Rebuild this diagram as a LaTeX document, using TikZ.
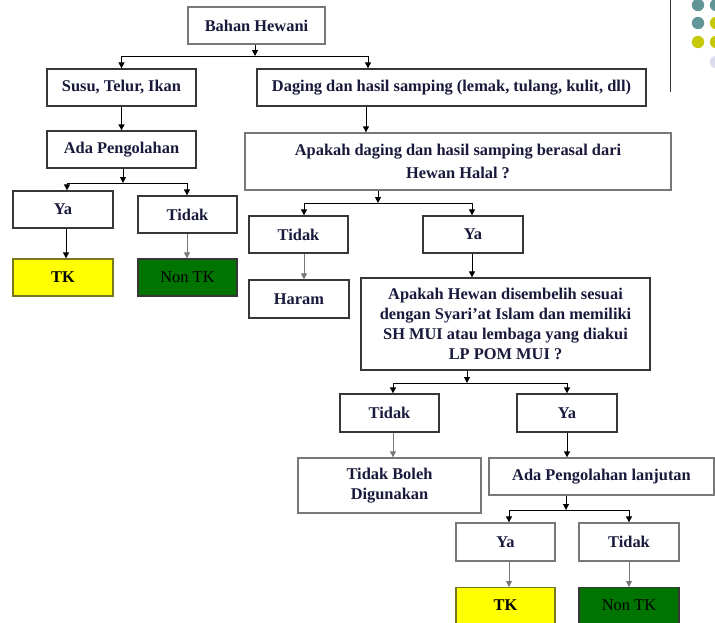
\documentclass[tikz,border=0pt]{standalone}
\usepackage{fontspec}
\setmainfont{Liberation Serif}
\usetikzlibrary{arrows.meta}

\definecolor{ink}{RGB}{25,25,60}
\definecolor{edgeD}{RGB}{55,55,55}
\definecolor{edgeL}{RGB}{120,120,120}
\definecolor{tkyellow}{RGB}{255,255,0}
\definecolor{tkedge}{RGB}{120,120,30}
\definecolor{ntgreen}{RGB}{0,115,0}
\definecolor{dotteal}{RGB}{98,150,150}
\definecolor{dotlime}{RGB}{200,200,10}
\definecolor{dotlav}{RGB}{220,220,238}

\begin{document}
\begin{tikzpicture}[x=1pt,y=-1pt,
  txt/.style={font=\fontsize{16.4}{20}\selectfont\bfseries, text=ink, align=center},
  box/.style={txt, draw=edgeD, line width=1.3pt, fill=white,
              minimum height=37pt, inner sep=2pt},
  boxl/.style={box, draw=edgeL},
  tkbox/.style={box, fill=tkyellow, draw=tkedge, text=black},
  ntbox/.style={box, fill=ntgreen, draw=edgeD, text=black,
                font=\fontsize{16.4}{20}\selectfont},
  arr/.style={draw=black, line width=1pt,
              -{Triangle[length=6pt,width=6pt]}},
  arrg/.style={arr, draw=edgeL}
]
\useasboundingbox (0,0) rectangle (715,622);
\clip (0,0) rectangle (715,622);

% corner ornament: rule and dots
\draw[edgeD, line width=1pt] (670,0) -- (670,92);
\fill[dotteal] (698,5) circle (6.2) (716,5) circle (6.2) (698,23) circle (6.2);
\fill[dotlime] (716,23) circle (6.2) (698,42) circle (6.2) (716,42) circle (6.2);
\fill[dotlav] (716,62) circle (6.2);

% boxes
\node[boxl, minimum width=137pt] (bahan) at (256.5,25.5) {Bahan Hewani};
\node[box, minimum width=149pt] (susu) at (121.5,87.5) {Susu, Telur, Ikan};
\node[box, minimum width=389pt] (daging) at (451.5,87.5)
  {Daging dan hasil samping (lemak, tulang, kulit, dll)};
\node[box, minimum width=149pt] (ada1) at (121.5,149.5) {Ada Pengolahan};
\node[boxl, minimum width=426pt, minimum height=57pt,
      font=\fontsize{16.4}{23}\selectfont\bfseries] (apakah1) at (458,161.5)
  {Apakah daging dan hasil samping berasal dari\\Hewan Halal ?};

\node[box, minimum width=100pt] (ya1) at (63,209.5) {Ya};
\node[box, minimum width=99pt] (tidak1) at (187.5,214.5) {Tidak};
\node[tkbox, minimum width=100pt] (tk1) at (63,277.5) {TK};
\node[ntbox, minimum width=99pt] (nontk1) at (187.5,277.5) {Non TK};

\node[box, minimum width=99pt] (tidak2) at (298.5,234.5) {Tidak};
\node[box, minimum width=100pt] (ya2) at (473,234.5) {Ya};
\node[box, minimum width=100pt, minimum height=38pt] (haram) at (299,299) {Haram};
\node[box, minimum width=289pt, minimum height=92pt] (apakah2) at (505.5,324)
  {Apakah Hewan disembelih sesuai\\dengan Syari'at Islam dan memiliki\\SH MUI atau lembaga yang diakui\\LP POM MUI ?};

\node[box, minimum width=99pt, minimum height=38pt] (tidak3) at (389.5,413) {Tidak};
\node[box, minimum width=100pt, minimum height=38pt] (ya3) at (567,413) {Ya};
\node[boxl, minimum width=183pt, minimum height=55pt] (boleh) at (389.5,485.5)
  {Tidak Boleh\\Digunakan};
\node[boxl, minimum width=225pt] (ada2) at (601.5,476.5) {Ada Pengolahan lanjutan};

\node[boxl, minimum width=99pt, minimum height=38pt] (ya4) at (505.5,542) {Ya};
\node[boxl, minimum width=100pt, minimum height=38pt] (tidak4) at (629,542) {Tidak};
\node[tkbox, minimum width=99pt, anchor=north] (tk2) at (505.5,587)
  {\raisebox{3pt}{TK}};
\node[ntbox, minimum width=100pt, anchor=north] (nontk2) at (629,587)
  {\raisebox{3pt}{Non TK}};

% branch points and connector columns
\coordinate (j1) at (255,56);
\coordinate (j2) at (123,183);
\coordinate (j3) at (378,203);
\coordinate (j4) at (467,383);
\coordinate (j5) at (566,510);
\coordinate (cDin) at (368,0);
\coordinate (cDout) at (366,0);
\coordinate (cYa1) at (67,0);
\coordinate (cYa1d) at (66,0);
\coordinate (cTd1) at (187,0);
\coordinate (cTd2) at (304,0);
\coordinate (cYa2) at (472,0);
\coordinate (cTd3) at (393,0);
\coordinate (cYa3) at (567,0);
\coordinate (cYa4) at (509,0);
\coordinate (cTd4) at (629,0);

% connectors
\draw[arr] (bahan.south -| j1) -- (j1);
\draw[arr] (j1) -| (susu.north);
\draw[arr] (j1) -| (daging.north -| cDin);

\draw[arr] (susu.south) -- (ada1.north);
\draw[arr] (ada1.south -| j2) -- (j2);
\draw[arr] (j2) -| (ya1.north -| cYa1);
\draw[arr] (j2) -| (tidak1.north -| cTd1);
\draw[arr] (ya1.south -| cYa1d) -- (tk1.north -| cYa1d);
\draw[arrg] (tidak1.south -| cTd1) -- (nontk1.north -| cTd1);

\draw[arr] (daging.south -| cDout) -- (apakah1.north -| cDout);
\draw[arr] (apakah1.south -| j3) -- (j3);
\draw[arr] (j3) -| (tidak2.north -| cTd2);
\draw[arr] (j3) -| (ya2.north -| cYa2);
\draw[arrg] (tidak2.south -| cTd2) -- (haram.north -| cTd2);
\draw[arr] (ya2.south -| cYa2) -- (apakah2.north -| cYa2);

\draw[arr] (apakah2.south -| j4) -- (j4);
\draw[arr] (j4) -| (tidak3.north -| cTd3);
\draw[arr] (j4) -| (ya3.north -| cYa3);
\draw[arrg] (tidak3.south -| cTd3) -- (boleh.north -| cTd3);
\draw[arr] (ya3.south -| cYa3) -- (ada2.north -| cYa3);

\draw[arr] (ada2.south -| j5) -- (j5);
\draw[arr] (j5) -| (ya4.north -| cYa4);
\draw[arr] (j5) -| (tidak4.north -| cTd4);
\draw[arrg] (ya4.south -| cYa4) -- (tk2.north -| cYa4);
\draw[arrg] (tidak4.south -| cTd4) -- (nontk2.north -| cTd4);
\end{tikzpicture}
\end{document}
